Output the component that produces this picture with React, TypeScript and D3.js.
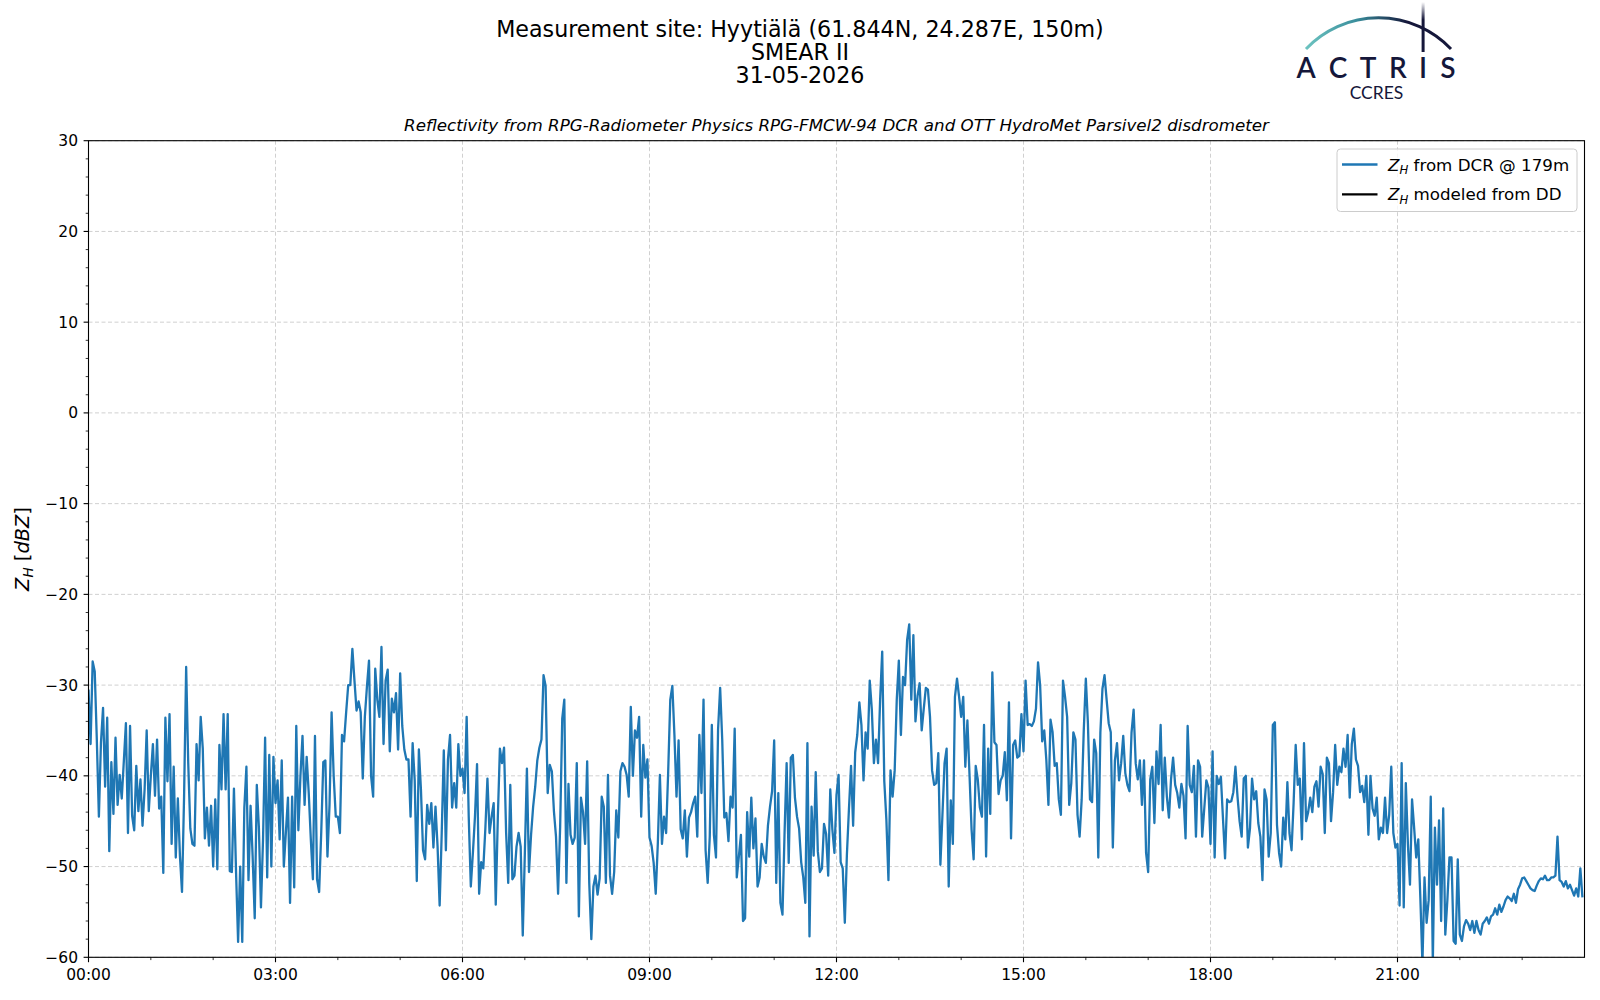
import React from 'react'
import * as d3 from 'd3'

// Z_H from the DCR @ 179m, one value every 2 minutes, in 3-hour blocks (dBZ)
const zh00 = [
  -30.5, -36.5, -27.4, -28.5, -36, -44.5, -36.3, -32.5, -41.2, -33.6,
  -48.3, -38.5, -44.2, -35.8, -43.2, -39.9, -42.5, -38.4, -34.2, -46.3,
  -34.5, -44.4, -46, -38.9, -43.9, -40.4, -45.5, -41.5, -35, -43.9,
  -40, -36.5, -42.2, -36, -43.6, -42.3, -50.7, -33.6, -40.6, -33.2,
  -47.5, -39, -49, -42.5, -48.8, -52.8, -42.3, -28, -38.6, -45.8,
  -47.5, -47.7, -36.5, -40.5, -33.5, -37, -46.9, -43.5, -47.7, -43.3,
  -50, -42.6, -50.3, -36.6, -41.5, -33.2, -41.5, -33.2, -50.5, -50.6,
  -41.4, -50.5, -58.3, -50, -58.3, -43.5, -39, -51.5, -43.3, -48.9,
  -55.7, -41, -45.7, -54.5, -47, -35.8, -51.2, -37.7, -50, -37.9
]
const zh03 = [
  -43, -40.5, -47, -38.3, -50, -46.2, -42.4, -54, -42.3, -52.3,
  -34.5, -46, -40, -35.6, -43.2, -37.9, -41.9, -47, -51.4, -35.6,
  -51.4, -52.8, -46.3, -38.5, -38.3, -48.9, -43.2, -33, -40, -44.5,
  -44.5, -46.3, -35.5, -36.2, -33, -30, -30, -26, -29.5, -32.8,
  -31.8, -33, -40.3, -33.5, -30.2, -27.3, -40, -42.3, -28.2, -31.6,
  -33.5, -25.8, -36.5, -29.5, -28.3, -37.3, -31.5, -33, -30.9, -37.1,
  -28.7, -34.5, -37.1, -38.2, -38.2, -44.5, -36.4, -40.5, -51.6, -37.1,
  -41.5, -48.2, -49.2, -43.2, -45.3, -43, -47.9, -43.4, -47.8, -54.3,
  -46.3, -37.2, -48.2, -38.2, -35.5, -43.5, -40.8, -43.5, -36.5, -40
]
const zh06 = [
  -39.2, -41.9, -33.5, -44.5, -52.2, -48.5, -44.5, -38.7, -53, -49.5,
  -50.2, -45.8, -40.3, -46.3, -44.5, -43, -54.2, -44.6, -37, -38.6,
  -36.9, -46.3, -51.8, -41, -51.4, -51, -47.8, -46.3, -47.8, -57.6,
  -48.6, -39.2, -50.6, -46.5, -43.4, -41.2, -38.3, -36.9, -36, -28.9,
  -30.1, -41.9, -38.8, -39.5, -43.9, -46.7, -53, -45.6, -33.7, -31.6,
  -51.8, -40.9, -46.5, -47.5, -46.8, -38.6, -55.5, -42.4, -44, -47.5,
  -38.4, -51.8, -58, -52.2, -51, -53.1, -51.3, -42.3, -43.4, -51.8,
  -39.9, -51, -53, -50.6, -43.8, -46.8, -39.5, -38.6, -39, -39.9,
  -42.3, -32.4, -40, -35, -35.8, -33.5, -44.5, -36.6, -40.2, -38.2
]
const zh09 = [
  -46.8, -47.7, -49.6, -53, -47.5, -39.9, -47.5, -44.5, -46.3, -39.5,
  -31.6, -30.1, -35.5, -42.3, -36.1, -45.9, -46.9, -43.8, -48.9, -44.6,
  -44, -43, -42.3, -46.7, -35.5, -41.9, -31.6, -48.2, -51.8, -46.7,
  -34.4, -46.5, -49, -34.9, -30.3, -36, -44.6, -44.1, -47.2, -42.3,
  -43.5, -34.8, -51.2, -48.9, -46.5, -56, -55.7, -44, -48.9, -42.4,
  -48, -44.7, -52.2, -51.2, -47.5, -48.9, -49.6, -45.5, -43.4, -41.7,
  -36.1, -51.8, -41.9, -54, -55.3, -46.3, -38.6, -49.6, -38, -37.7,
  -42.4, -44.5, -45.8, -49.5, -51.2, -54, -36.4, -57.7, -43.4, -48.8,
  -39.6, -48.3, -50.6, -50.2, -45.3, -46.4, -51, -41.5, -45.9, -48.5
]
const zh12 = [
  -42.1, -39.9, -49.5, -50.2, -56.2, -48.7, -43.6, -38.9, -45.5, -37.4,
  -35.5, -31.9, -34.4, -40.5, -35.2, -37, -29.5, -32.7, -38.6, -36,
  -38.6, -31.6, -26.3, -40.6, -44.8, -51.5, -39.4, -42.3, -39.4, -31.6,
  -27.3, -35.5, -29.1, -30, -25, -23.3, -31.6, -24.5, -34, -31.2,
  -29.8, -35, -32.6, -30.3, -30.5, -33.5, -39.4, -41, -40.8, -37.5,
  -49.8, -44.2, -38.6, -37, -52.2, -42.7, -47.5, -31.3, -29.3, -31.3,
  -33.5, -31.3, -39, -33.9, -39.8, -45.9, -49.2, -38.9, -40.4, -43.5,
  -44.5, -34.4, -48.9, -37, -44.2, -28.6, -36.3, -36.6, -42, -40.5,
  -40, -37.4, -42.7, -31.9, -46.9, -36.6, -36.1, -38, -37.8, -33.2
]
const zh15 = [
  -37.3, -29.5, -34.4, -34.3, -34.5, -34, -32.6, -27.5, -30, -36.2,
  -35, -38.3, -43.2, -33.8, -35.2, -38.9, -38.6, -42.6, -44.3, -29.5,
  -31.3, -33.5, -43.2, -40.8, -35.2, -36, -44.3, -46.7, -42.6, -35,
  -29.3, -34.2, -42.6, -42.9, -36, -37.5, -49, -35.2, -30.4, -28.9,
  -31.6, -34.2, -35.2, -47.9, -38.3, -36.4, -40.5, -38.6, -35.6, -39.7,
  -41, -41.7, -35.2, -32.7, -38.6, -40.4, -38.3, -43.2, -38.3, -48.5,
  -50.6, -40.4, -39, -45.2, -37.3, -40.9, -34.4, -43.8, -38, -42.3,
  -44.6, -40.4, -38, -41, -41.9, -43.5, -40.9, -42.2, -46.9, -34.5,
  -41, -41.8, -38.9, -46.7, -38.3, -39, -46.7, -43.6, -40.5, -41.3
]
const zh18 = [
  -47.5, -37.3, -49, -40, -40.9, -40.1, -44.7, -49.1, -42.6, -42.9,
  -42.8, -41.8, -39, -42.3, -45, -46.7, -40.3, -40, -47.9, -45.8,
  -40.3, -42.6, -41.7, -45.2, -46.7, -51.5, -41.5, -42.6, -48.9, -46.3,
  -34.4, -34.1, -45.4, -48.5, -50, -44.6, -47, -40.7, -46.3, -48.2,
  -43, -36.6, -41, -40.3, -47, -36.4, -45, -44, -42.4, -44,
  -41.2, -40.6, -43.4, -39, -39.8, -46.3, -38, -38.6, -45, -41.8,
  -36.6, -41, -39, -39.6, -37, -39, -35.5, -42.4, -36.5, -34.8,
  -38.2, -38.9, -41.8, -41.1, -42.9, -40, -46.5, -40, -43.6, -44.4,
  -42.4, -47, -45.7, -46.3, -42.4, -46.3, -44.3, -39, -46.3, -47.9
]
const zh21 = [
  -47.5, -54.3, -38.6, -54.5, -40.8, -47.5, -52, -42.6, -45.7, -49,
  -47, -53.5, -60.7, -51.2, -56.2, -53.7, -42.3, -60.5, -45.7, -52,
  -44.9, -56, -43.6, -57.5, -53.7, -49, -49, -58.2, -58.5, -49.2,
  -57.5, -58.2, -56.6, -55.9, -56.3, -57, -56, -57.3, -56, -57,
  -57.5, -56.3, -56, -55.6, -56.3, -55.5, -55.3, -54.6, -55.3, -54.2,
  -55, -54.4, -53.7, -53.3, -53.5, -53.8, -53, -54, -52.5, -52,
  -51.3, -51.2, -51.6, -52, -52.4, -52.6, -52.7, -52.1, -51.6, -51.3,
  -51.4, -51, -51.5, -51.5, -51.2, -51.2, -51, -46.7, -51.5, -51.7,
  -52.2, -51.6, -52.4, -52, -52.6, -53.2, -52.4, -53.3, -50.2, -53.4
]

const dcrValues = [...zh00, ...zh03, ...zh06, ...zh09, ...zh12, ...zh15, ...zh18, ...zh21]
const dcrStep = 2 // minutes between samples
// Z_H modeled from the disdrometer: no data on this day
const ddValues: number[] = []

const titleLines = [
  'Measurement site: Hyytiälä (61.844N, 24.287E, 150m)',
  'SMEAR II',
  '31-05-2026'
]
const subtitle =
  'Reflectivity from RPG-Radiometer Physics RPG-FMCW-94 DCR and OTT HydroMet Parsivel2 disdrometer'
const yTicks = [-60, -50, -40, -30, -20, -10, 0, 10, 20, 30]
const xTickHours = [0, 3, 6, 9, 12, 15, 18, 21]
const legendItems = [
  { text: ' from DCR @ 179m', color: '#1f77b4' },
  { text: ' modeled from DD', color: '#000000' }
]
const logoLetters = ['A', 'C', 'T', 'R', 'I', 'S']

const W = 1600
const H = 1000
const margin = { top: 140.7, right: 15.5, bottom: 42.7, left: 88.5 }
const font = '"DejaVu Sans", sans-serif'
const navy = '#15173a'

const fmtMinus = (v: number) => (v < 0 ? `\u2212${Math.abs(v)}` : `${v}`)
const fmtHour = (h: number) => `${String(h).padStart(2, '0')}:00`

const App: React.FC = () => {
  const x = d3.scaleLinear().domain([0, 1440]).range([margin.left, W - margin.right])
  const y = d3.scaleLinear().domain([-60, 30]).range([H - margin.bottom, margin.top])
  const left = x(0)
  const right = x(1440)
  const top = y(30)
  const bottom = y(-60)

  const line = d3
    .line<number>()
    .x((_, i) => x(i * dcrStep))
    .y(d => y(d))

  const yMinor = d3.range(-60, 30.01, 2).filter(v => v % 10 !== 0)
  const xMinor = d3.range(0, 1440, 60).filter(m => m % 180 !== 0)

  // legend geometry
  const lg = { x: right - 247.5, y: top + 8.3, w: 240, h: 62.5 }
  const logoX = [1306, 1338, 1368, 1398, 1423, 1448]

  return (
    <svg
      width={W}
      height={H}
      style={{ position: 'absolute', left: 0, top: 0, background: '#fff' }}
      fontFamily={font}
    >
      <defs>
        <clipPath id="plot-clip">
          <rect x={left} y={top} width={right - left} height={bottom - top} />
        </clipPath>
        <linearGradient id="arc-grad" x1="1306" y1="0" x2="1451" y2="0" gradientUnits="userSpaceOnUse">
          <stop offset="0" stopColor="#6cc3c0" />
          <stop offset="0.35" stopColor="#3a8e9c" />
          <stop offset="0.7" stopColor={navy} />
          <stop offset="1" stopColor={navy} />
        </linearGradient>
        <linearGradient id="bar-grad" x1="0" y1="0" x2="0" y2="1">
          <stop offset="0" stopColor={navy} stopOpacity="0" />
          <stop offset="0.35" stopColor={navy} stopOpacity="1" />
          <stop offset="1" stopColor={navy} stopOpacity="1" />
        </linearGradient>
      </defs>
      <rect width={W} height={H} fill="#fff" />

      {/* titles */}
      {titleLines.map((t, i) => (
        <text key={t} x={800} y={37 + i * 23.2} textAnchor="middle" fontSize={22.2} fill="#000">
          {t}
        </text>
      ))}
      <text x={(left + right) / 2} y={131} textAnchor="middle" fontSize={16.7} fontStyle="italic">
        {subtitle}
      </text>

      {/* ACTRIS logo */}
      <path d="M1306,49 A100,100 0 0 1 1451,49" fill="none" stroke="url(#arc-grad)" strokeWidth={3} />
      <rect x={1421.6} y={2} width={3} height={50} fill="url(#bar-grad)" />
      {logoLetters.map((c, i) => (
        <text
          key={i}
          x={logoX[i]}
          y={77.5}
          textAnchor="middle"
          fontSize={28}
          fontWeight={600}
          fontFamily="Lato, sans-serif"
          fill={navy}
        >
          {c}
        </text>
      ))}
      <text x={1376.5} y={99} textAnchor="middle" fontSize={17.5} fontFamily="Lato, sans-serif" fill={navy}>
        CCRES
      </text>

      {/* grid */}
      <g stroke="#d0d0d0" strokeWidth={1} strokeDasharray="4,2.5">
        {yTicks.map(v => (
          <line key={`gy${v}`} x1={left} x2={right} y1={y(v)} y2={y(v)} />
        ))}
        {xTickHours.map(h => (
          <line key={`gx${h}`} x1={x(h * 60)} x2={x(h * 60)} y1={top} y2={bottom} />
        ))}
      </g>

      {/* data */}
      <g clipPath="url(#plot-clip)">
        <path
          d={line(dcrValues) ?? ''}
          fill="none"
          stroke="#1f77b4"
          strokeWidth={2.3}
          strokeLinejoin="round"
        />
        {ddValues.length > 0 && (
          <path d={line(ddValues) ?? ''} fill="none" stroke="#000" strokeWidth={2} />
        )}
      </g>

      {/* frame */}
      <rect x={left} y={top} width={right - left} height={bottom - top} fill="none" stroke="#000" strokeWidth={1.1} />

      {/* ticks */}
      <g stroke="#000">
        {yTicks.map(v => (
          <line key={`ty${v}`} x1={left - 4.9} x2={left} y1={y(v)} y2={y(v)} strokeWidth={1.1} />
        ))}
        {yMinor.map(v => (
          <line key={`my${v}`} x1={left - 2.8} x2={left} y1={y(v)} y2={y(v)} strokeWidth={0.8} />
        ))}
        {xTickHours.map(h => (
          <line key={`tx${h}`} x1={x(h * 60)} x2={x(h * 60)} y1={bottom} y2={bottom + 4.9} strokeWidth={1.1} />
        ))}
        {xMinor.map(m => (
          <line key={`mx${m}`} x1={x(m)} x2={x(m)} y1={bottom} y2={bottom + 2.8} strokeWidth={0.8} />
        ))}
      </g>
      {yTicks.map(v => (
        <text key={`ly${v}`} x={left - 10.5} y={y(v)} dy="0.36em" textAnchor="end" fontSize={15.5}>
          {fmtMinus(v)}
        </text>
      ))}
      {xTickHours.map(h => (
        <text key={`lx${h}`} x={x(h * 60)} y={bottom + 22.8} textAnchor="middle" fontSize={15.5}>
          {fmtHour(h)}
        </text>
      ))}
      <text transform={`translate(29,${(top + bottom) / 2}) rotate(-90)`} textAnchor="middle" fontSize={19.4}>
        <tspan fontStyle="italic">Z</tspan>
        <tspan fontStyle="italic" fontSize={13.6} dy={4}>H</tspan>
        <tspan dy={-4}>{' ['}</tspan>
        <tspan fontStyle="italic">dBZ</tspan>
        <tspan>]</tspan>
      </text>

      {/* legend */}
      <rect
        x={lg.x}
        y={lg.y}
        width={lg.w}
        height={lg.h}
        rx={3.5}
        fill="#fff"
        fillOpacity={0.8}
        stroke="#cccccc"
        strokeWidth={1}
      />
      {legendItems.map((d, i) => {
        const cy = lg.y + 15.5 + i * 29.8
        return (
          <g key={d.text}>
            <line x1={lg.x + 5} x2={lg.x + 40.5} y1={cy} y2={cy} stroke={d.color} strokeWidth={2.3} />
            <text x={lg.x + 51} y={cy} dy="0.36em" fontSize={16.7}>
              <tspan fontStyle="italic">Z</tspan>
              <tspan fontStyle="italic" fontSize={11.7} dy={3.5}>H</tspan>
              <tspan dy={-3.5}>{d.text}</tspan>
            </text>
          </g>
        )
      })}
    </svg>
  )
}

export default App
